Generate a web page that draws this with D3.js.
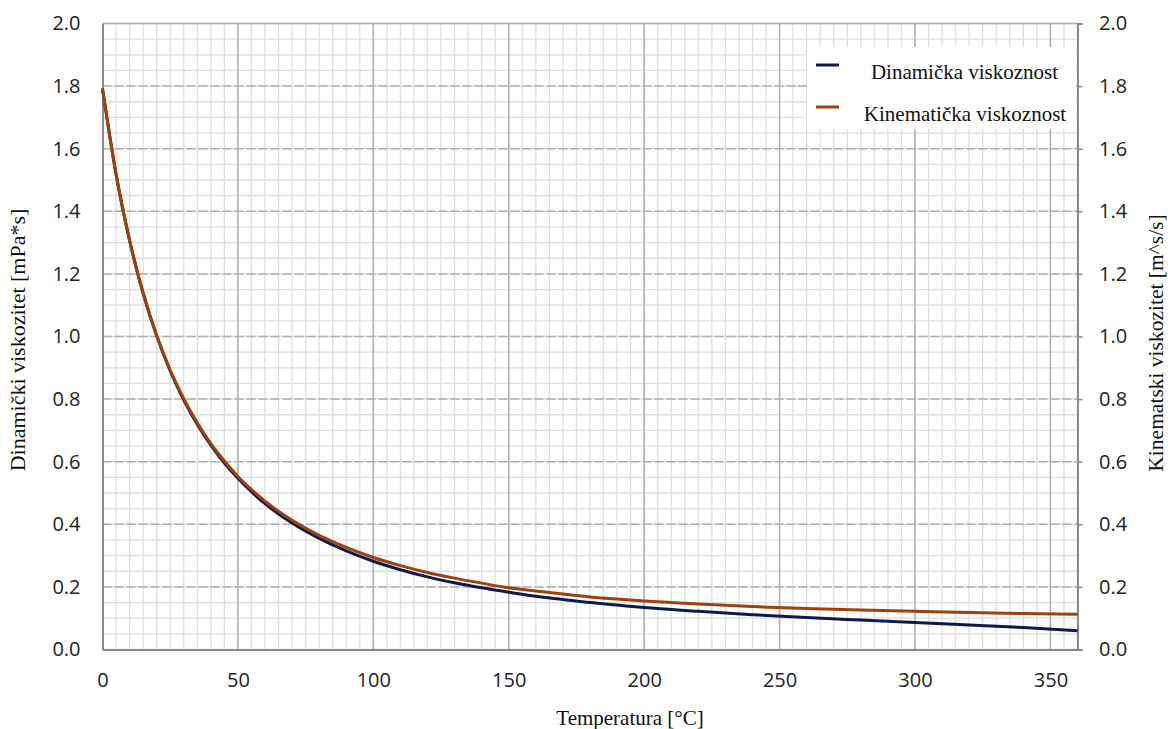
<!DOCTYPE html>
<html>
<head>
<meta charset="utf-8">
<script src="https://cdn.jsdelivr.net/npm/d3@7"></script>
<style>
  body { margin: 0; background: #fff; }
  svg { display: block; }
</style>
</head>
<body>
<svg id="chart" width="1168" height="729"></svg>
<script>
// ---- data ----
const temperatures = [0, 5, 10, 15, 20, 25, 30, 35, 40, 45, 50, 60, 70, 80, 90, 100, 110, 120, 130, 140, 150, 160, 170, 180, 190, 200, 220, 240, 260, 280, 300, 320, 340, 360];
const dynamicViscosity = [1.792, 1.519, 1.307, 1.138, 1.002, 0.890, 0.797, 0.719, 0.653, 0.596, 0.547, 0.466, 0.404, 0.355, 0.315, 0.282, 0.255, 0.232, 0.213, 0.197, 0.183, 0.170, 0.160, 0.150, 0.142, 0.134, 0.122, 0.111, 0.102, 0.094, 0.086, 0.078, 0.070, 0.060];
const kinematicViscosity = [1.792, 1.519, 1.307, 1.139, 1.004, 0.893, 0.801, 0.724, 0.658, 0.602, 0.553, 0.474, 0.413, 0.365, 0.326, 0.294, 0.268, 0.246, 0.228, 0.212, 0.197, 0.187, 0.177, 0.168, 0.161, 0.155, 0.145, 0.137, 0.131, 0.126, 0.122, 0.118, 0.115, 0.113];
const xTickValues = [0, 50, 100, 150, 200, 250, 300, 350];
const yTickValues = [0, 0.2, 0.4, 0.6, 0.8, 1.0, 1.2, 1.4, 1.6, 1.8, 2.0];
const seriesNames = ["Dinamička viskoznost", "Kinematička viskoznost"];
const seriesColors = ["#10194d", "#9e420d"];
const xTitle = "Temperatura [°C]";
const yLeftTitle = "Dinamički viskozitet [mPa*s]";
const yRightTitle = "Kinematski viskozitet [m^s/s]";

// ---- layout ----
const svg = d3.select("#chart");
const pL = 102.5, pR = 1077.5, pT = 23.5, pB = 649.5;
const x = d3.scaleLinear().domain([0, 360]).range([pL, pR]);
const y = d3.scaleLinear().domain([0, 2]).range([pB, pT]);

const tickFont = "'Open Sans', 'Segoe UI', sans-serif";
const serif = "'Liberation Serif', 'Times New Roman', serif";

// minor grid
const g = svg.append("g");
g.selectAll("line.vmin").data(d3.range(0, 361, 5)).join("line")
  .attr("x1", d => x(d)).attr("x2", d => x(d)).attr("y1", pT).attr("y2", pB)
  .attr("stroke", "#dedede").attr("stroke-width", 1.3);
g.selectAll("line.hmin").data(d3.range(0, 41).map(i => i * 0.05)).join("line")
  .attr("x1", pL).attr("x2", pR).attr("y1", d => y(d)).attr("y2", d => y(d))
  .attr("stroke", "#dedede").attr("stroke-width", 1.3);

// major grid
g.selectAll("line.hmaj").data(yTickValues.slice(1, -1)).join("line")
  .attr("x1", pL).attr("x2", pR).attr("y1", d => y(d)).attr("y2", d => y(d))
  .attr("stroke", "#b0b0b0").attr("stroke-width", 1.5).attr("stroke-dasharray", "9,3");
g.append("line").attr("x1", pL).attr("x2", pR).attr("y1", y(2)).attr("y2", y(2))
  .attr("stroke", "#b0b0b0").attr("stroke-width", 1.5);
g.selectAll("line.vmaj").data(xTickValues.slice(1)).join("line")
  .attr("x1", d => x(d)).attr("x2", d => x(d)).attr("y1", pT).attr("y2", pB)
  .attr("stroke", "#b0b0b0").attr("stroke-width", 1.5);

// axes
const xAxis = d3.axisBottom(x).tickValues(xTickValues).tickSize(0).tickPadding(23).tickFormat(d3.format("d"));
const xg = svg.append("g").attr("transform", `translate(0,${pB})`).call(xAxis);
const yAxisL = d3.axisLeft(y).tickValues(yTickValues).tickSize(0).tickPadding(22).tickFormat(d3.format(".1f"));
const ylg = svg.append("g").attr("transform", `translate(${pL},0)`).call(yAxisL);
const yAxisR = d3.axisRight(y).tickValues(yTickValues).tickSize(5).tickPadding(16.5).tickFormat(d3.format(".1f"));
const yrg = svg.append("g").attr("transform", `translate(${pR},0)`).call(yAxisR);

[xg, ylg, yrg].forEach(a => {
  a.select(".domain").attr("stroke", "#8a8a8a").attr("stroke-width", 2);
  a.selectAll(".tick line").attr("stroke", "#8a8a8a").attr("stroke-width", 1.5);
  a.selectAll("text").attr("font-family", tickFont).attr("font-size", 20).attr("fill", "#222");
});

// lines
const lineGen = vals => d3.line().x((d, i) => x(temperatures[i])).y(d => y(d)).curve(d3.curveMonotoneX)(vals);
svg.append("path").attr("d", lineGen(dynamicViscosity)).attr("fill", "none")
  .attr("stroke", seriesColors[0]).attr("stroke-width", 3);
svg.append("path").attr("d", lineGen(kinematicViscosity)).attr("fill", "none")
  .attr("stroke", seriesColors[1]).attr("stroke-width", 3);

// legend
const lg = svg.append("g");
lg.append("rect").attr("x", 807).attr("y", 47).attr("width", 269).attr("height", 82).attr("fill", "#fff");
seriesNames.forEach((name, i) => {
  const cy = 65 + i * 42;
  lg.append("line").attr("x1", 816).attr("x2", 839).attr("y1", cy).attr("y2", cy)
    .attr("stroke", seriesColors[i]).attr("stroke-width", 3);
  lg.append("text").attr("x", i === 0 ? 964.5 : 965).attr("y", cy + 14).attr("text-anchor", "middle")
    .attr("font-family", serif).attr("font-size", 21).attr("fill", "#111").text(name);
});

// titles
svg.append("text").attr("x", 630).attr("y", 725).attr("text-anchor", "middle")
  .attr("font-family", serif).attr("font-size", 21).attr("fill", "#111").text(xTitle);
svg.append("text").attr("transform", "translate(25,340) rotate(-90)").attr("text-anchor", "middle")
  .attr("font-family", serif).attr("font-size", 22).attr("fill", "#111").text(yLeftTitle);
svg.append("text").attr("transform", "translate(1163,343) rotate(-90)").attr("text-anchor", "middle")
  .attr("font-family", serif).attr("font-size", 21.5).attr("fill", "#111").text(yRightTitle);
</script>
</body>
</html>
